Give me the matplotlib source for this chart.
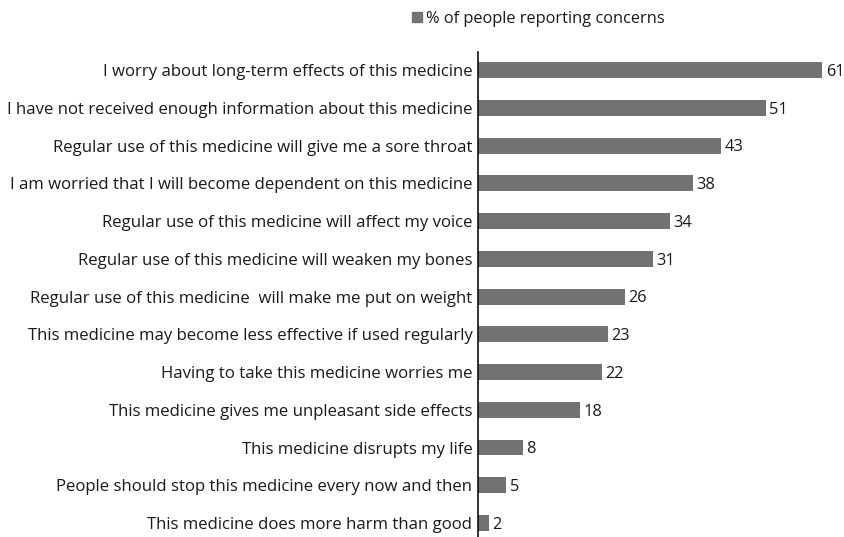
import matplotlib
matplotlib.use("Agg")
import matplotlib.pyplot as plt
from matplotlib.patches import Patch

labels = [
    "I worry about long-term effects of this medicine",
    "I have not received enough information about this medicine",
    "Regular use of this medicine will give me a sore throat",
    "I am worried that I will become dependent on this medicine",
    "Regular use of this medicine will affect my voice",
    "Regular use of this medicine will weaken my bones",
    "Regular use of this medicine  will make me put on weight",
    "This medicine may become less effective if used regularly",
    "Having to take this medicine worries me",
    "This medicine gives me unpleasant side effects",
    "This medicine disrupts my life",
    "People should stop this medicine every now and then",
    "This medicine does more harm than good",
]
values = [61, 51, 43, 38, 34, 31, 26, 23, 22, 18, 8, 5, 2]
legend_label = "% of people reporting concerns"

bar_color = "#727272"
text_color = "#1a1a1a"
plt.rcParams["font.family"] = ["Open Sans", "DejaVu Sans"]

fig = plt.figure(figsize=(8.45, 5.37), dpi=100)
ax = fig.add_axes([478 / 845, 0.0, 367 / 845, 485 / 537])

n = len(values)
ypos = list(range(n - 1, -1, -1))
ax.barh(ypos, values, height=0.42, color=bar_color)
for y, v in zip(ypos, values):
    ax.text(v + 0.6, y - 0.05, str(v), va="center", ha="left", fontsize=11.8, color=text_color)

ax.set_xlim(0, 65)
ax.set_ylim(-0.37, n - 1 + 0.48)
ax.set_yticks(ypos)
ax.set_yticklabels(labels, fontsize=12.1, color=text_color)
ax.tick_params(axis="y", length=0, pad=4)
ax.set_xticks([])
for side in ("top", "right", "bottom"):
    ax.spines[side].set_visible(False)
ax.spines["left"].set_color("#111111")
ax.spines["left"].set_linewidth(1.2)

fig.legend(handles=[Patch(color=bar_color, label=legend_label)],
           loc="center left", bbox_to_anchor=(397 / 845, 1 - 19 / 537),
           frameon=False, fontsize=11.8, handlelength=0.6, handleheight=0.6,
           handletextpad=0.3, labelcolor=text_color)

fig.savefig("out.png", dpi=100)
